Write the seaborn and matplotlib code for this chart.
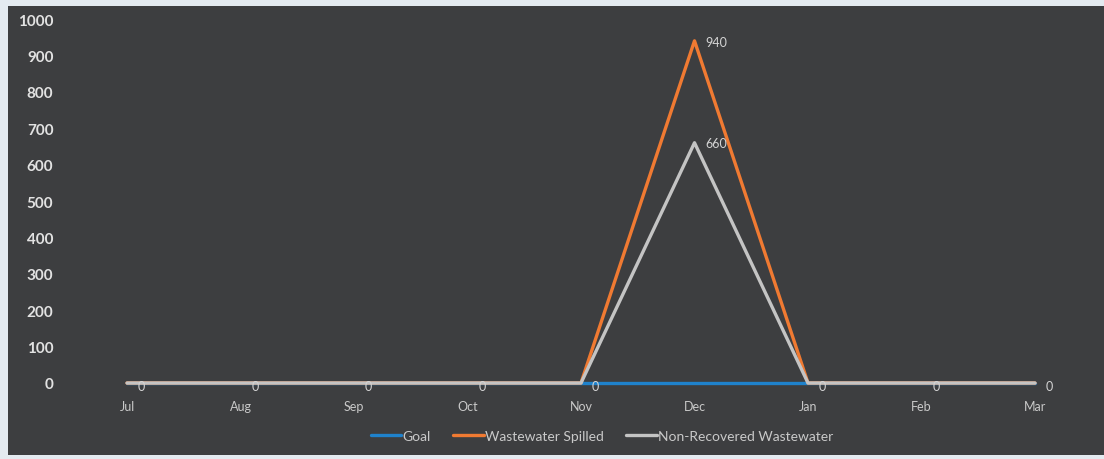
import matplotlib
matplotlib.use("Agg")
import matplotlib.pyplot as plt
import numpy as np
import pandas as pd
import seaborn as sns

# Monthly spill figures
months = ["Jul", "Aug", "Sep", "Oct", "Nov", "Dec", "Jan", "Feb", "Mar"]
goal = [0, 0, 0, 0, 0, 0, 0, 0, 0]
wastewater_spilled = [0, 0, 0, 0, 0, 940, 0, 0, 0]
non_recovered = [0, 0, 0, 0, 0, 660, 0, 0, 0]
y_ticks = [0, 100, 200, 300, 400, 500, 600, 700, 800, 900, 1000]

series_names = ["Goal", "Wastewater Spilled", "Non-Recovered Wastewater"]
series_values = [goal, wastewater_spilled, non_recovered]
colors = {"Goal": "#1f82cc", "Wastewater Spilled": "#f07a32",
          "Non-Recovered Wastewater": "#c4c4c4"}

rows = []
for name, vals in zip(series_names, series_values):
    for i, (m, v) in enumerate(zip(months, vals)):
        rows.append({"idx": i, "month": m, "series": name, "value": v})
df = pd.DataFrame(rows)

sns.set_theme(style="dark")
plt.rcParams["font.family"] = ["Lato", "DejaVu Sans"]

W, H = 1104, 460
fig = plt.figure(figsize=(W / 100, H / 100), dpi=100)
fig.patch.set_facecolor("#e4eaf0")

# dark chart panel behind the plot
bg = fig.add_axes([8 / W, 4 / H, 1 - 8 / W, 1 - 11 / H], zorder=-1)
bg.set_facecolor("#3d3e40")
bg.set_xticks([])
bg.set_yticks([])
for s in bg.spines.values():
    s.set_visible(False)

left, right = 127 / W, 1035 / W
bottom, top = (H - 384) / H, (H - 20) / H
ax = fig.add_axes([left, bottom, right - left, top - bottom], zorder=1)
ax.set_facecolor("none")

sns.lineplot(data=df, x="idx", y="value", hue="series", hue_order=series_names,
             palette=colors, linewidth=2.4, ax=ax, legend=False, sort=False,
             estimator=None)
for line in ax.get_lines():
    line.set_clip_on(False)

ax.set_xlim(0, len(months) - 1)
ax.set_ylim(0, 1000)
ax.set_xticks(range(len(months)))
ax.set_xticklabels(months, fontsize=9, color="#c9c9c9")
ax.set_yticks(y_ticks)
ax.set_yticklabels([str(t) for t in y_ticks], fontsize=11, fontweight="bold",
                   color="#e2e2e2")
ax.tick_params(axis="y", pad=53, length=0)
ax.tick_params(axis="x", pad=12, length=0)
ax.set_xlabel("")
ax.set_ylabel("")
ax.grid(False)
for s in ax.spines.values():
    s.set_visible(False)

# data labels
label_kw = dict(fontsize=9, color="#d4d4d4", va="center", ha="left",
                clip_on=False)
for i, v in enumerate(non_recovered):
    ax.annotate(str(v), (i, v), xytext=(8, -2 if v == 0 else 0),
                textcoords="offset points", **label_kw)
peak = int(np.argmax(wastewater_spilled))
ax.annotate(str(wastewater_spilled[peak]), (peak, wastewater_spilled[peak]),
            xytext=(8, -1), textcoords="offset points", **label_kw)

# legend
handles = [plt.Line2D([], [], color=colors[n], linewidth=2.4) for n in series_names]
leg = fig.legend(handles, series_names, loc="center", bbox_to_anchor=(602 / W, 1 - 437 / H),
                 ncol=3, frameon=False, fontsize=10, handlelength=2.2,
                 handletextpad=0.1, columnspacing=1.6)
for t in leg.get_texts():
    t.set_color("#c9c9c9")

fig.savefig("out.png", dpi=100, facecolor=fig.get_facecolor())
